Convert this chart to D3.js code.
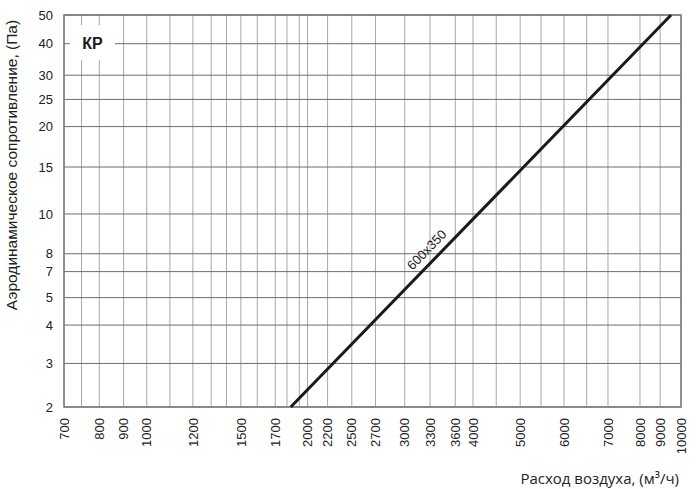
<!DOCTYPE html>
<html>
<head>
<meta charset="utf-8">
<script src="https://cdn.jsdelivr.net/npm/d3@7"></script>
<style>
  body { margin: 0; background: #fff; }
  svg { display: block; }
  .tick-label { font-family: "Liberation Sans", Arial, sans-serif; font-size: 13px; fill: #222; }
</style>
</head>
<body>
<div id="chart"></div>
<script>
// positions (the printed scale is not a clean log scale)
let xTickValues = [700, 815, 905, 1000, 1220, 1500, 1740, 2000, 2180, 2420, 2680, 3040, 3390, 3780, 4080, 5000, 6040, 7300, 8380, 9140, 10000]
let xTickLabels = ['700', '800', '900', '1000', '1200', '1500', '1700', '2000', '2200', '2500', '2700', '3000', '3300', '3600', '4000', '5000', '6000', '7000', '8000', '9000', '10000']
let xMinorGrid = [755, 1105, 1320, 1410, 1610, 1830, 1930, 4510, 5470, 6660]

let yTickValues = [2, 2.86, 3.92, 4.91, 6.08, 7.04, 9.76, 14.35, 20, 25, 30.5, 39.5, 50]
let yTickLabels = ['2', '3', '4', '5', '7', '8', '10', '15', '20', '25', '30', '40', '50']

let seriesName = '600x350'
let seriesFlow = [1860, 9580]
let seriesPressure = [2, 50]

let width = 700,
  height = 489
let margin = { top: 15, right: 19, bottom: 82, left: 64 }

let svg = d3.select('#chart')
  .append('svg')
  .attr('width', width)
  .attr('height', height)

let x = d3.scaleLog().domain([700, 10000]).range([margin.left, width - margin.right])
let y = d3.scaleLog().domain([2, 50]).range([height - margin.bottom, margin.top])

// grid
let grid = svg.append('g').attr('class', 'grid')

grid.selectAll('.vline')
  .data(xTickValues.concat(xMinorGrid))
  .enter().append('line')
  .attr('x1', d => x(d)).attr('x2', d => x(d))
  .attr('y1', y(50)).attr('y2', y(2))
  .attr('stroke', '#a8a8a8')
  .attr('stroke-width', 1)

grid.selectAll('.hline')
  .data(yTickValues)
  .enter().append('line')
  .attr('x1', x(700)).attr('x2', x(10000))
  .attr('y1', d => y(d)).attr('y2', d => y(d))
  .attr('stroke', '#6e6e6e')
  .attr('stroke-width', 1)

// white box behind the KP label
let kpBox = { q0: 718, q1: 872, p0: 34.5, p1: 46 }
svg.append('rect')
  .attr('x', x(kpBox.q0))
  .attr('y', y(kpBox.p1))
  .attr('width', x(kpBox.q1) - x(kpBox.q0))
  .attr('height', y(kpBox.p0) - y(kpBox.p1))
  .attr('fill', '#fff')

svg.append('text')
  .attr('x', (x(kpBox.q0) + x(kpBox.q1)) / 2)
  .attr('y', y(39.5))
  .attr('dy', '0.36em')
  .attr('text-anchor', 'middle')
  .style('font-family', '"Liberation Sans", Arial, sans-serif')
  .style('font-weight', 'bold')
  .style('font-size', '16px')
  .style('fill', '#1a1a1a')
  .text('КР')

// frame
svg.append('rect')
  .attr('x', x(700))
  .attr('y', y(50))
  .attr('width', x(10000) - x(700))
  .attr('height', y(2) - y(50))
  .attr('fill', 'none')
  .attr('stroke', '#7a7a7a')
  .attr('stroke-width', 1.5)

svg.append('line')
  .attr('x1', x(700)).attr('x2', x(10000))
  .attr('y1', y(2)).attr('y2', y(2))
  .attr('stroke', '#8a8a8a')
  .attr('stroke-width', 2)

// tick labels
svg.selectAll('.ytick')
  .data(yTickValues)
  .enter().append('text')
  .attr('class', 'tick-label')
  .attr('x', margin.left - 11)
  .attr('y', d => y(d))
  .attr('dy', '0.36em')
  .attr('text-anchor', 'end')
  .text((d, i) => yTickLabels[i])

svg.selectAll('.xtick')
  .data(xTickValues)
  .enter().append('text')
  .attr('class', 'tick-label')
  .attr('transform', d => 'translate(' + x(d) + ',' + (y(2) + 11) + ') rotate(-90)')
  .attr('dy', '0.36em')
  .attr('text-anchor', 'end')
  .text((d, i) => xTickLabels[i])

// series line
let points = seriesFlow.map((q, i) => [x(q), y(seriesPressure[i])])

svg.append('path')
  .datum(points)
  .attr('d', d3.line())
  .attr('fill', 'none')
  .attr('stroke', '#1a1a1a')
  .attr('stroke-width', 3)

let angle = Math.atan2(points[1][1] - points[0][1], points[1][0] - points[0][0])
let t = 0.38
let lx = points[0][0] + (points[1][0] - points[0][0]) * t + Math.sin(angle) * 10
let ly = points[0][1] + (points[1][1] - points[0][1]) * t - Math.cos(angle) * 10

svg.append('text')
  .attr('transform', 'translate(' + lx + ',' + ly + ') rotate(' + (angle * 180 / Math.PI) + ')')
  .attr('text-anchor', 'middle')
  .attr('dy', '0.2em')
  .style('font-family', '"Liberation Sans", Arial, sans-serif')
  .style('font-size', '13px')
  .style('fill', '#1a1a1a')
  .text(seriesName)

// axis titles
svg.append('text')
  .attr('transform', 'translate(17,165) rotate(-90)')
  .attr('text-anchor', 'middle')
  .style('font-family', '"Liberation Sans", Arial, sans-serif')
  .style('font-size', '15.5px')
  .style('fill', '#222')
  .text('Аэродинамическое сопротивление, (Па)')

svg.append('text')
  .attr('x', x(10000) - 2)
  .attr('y', 484)
  .attr('text-anchor', 'end')
  .style('font-family', '"Open Sans", sans-serif')
  .style('font-size', '15px')
  .style('fill', '#222')
  .text('Расход воздуха, (м³/ч)')
</script>
</body>
</html>
